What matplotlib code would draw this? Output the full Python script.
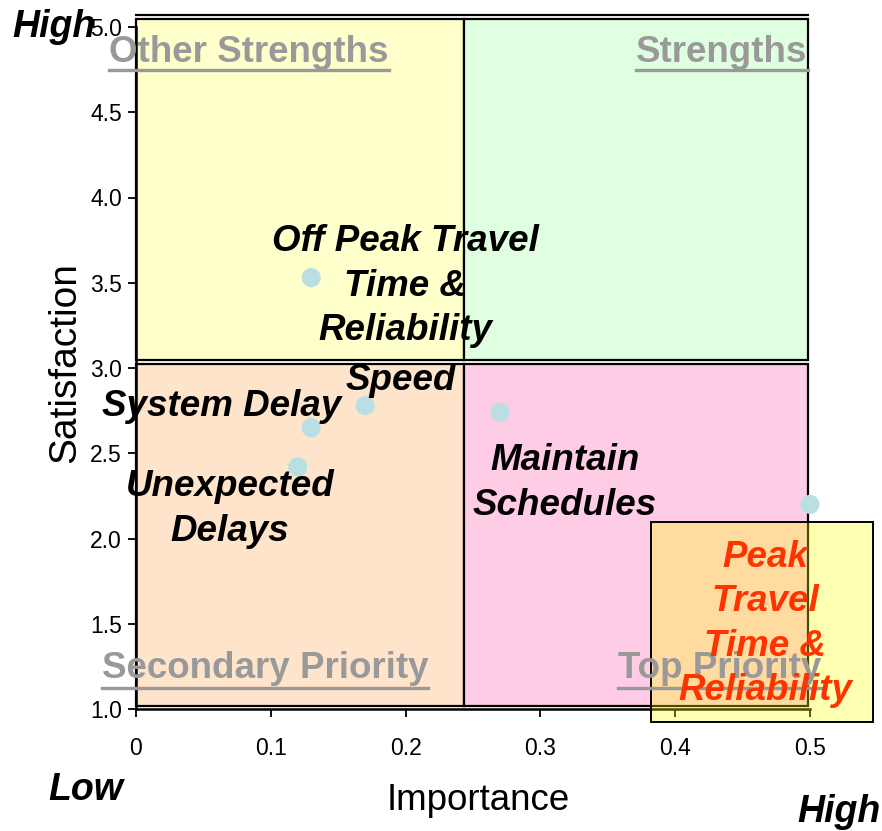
import matplotlib
matplotlib.use("Agg")
import matplotlib.pyplot as plt
from matplotlib.patches import Rectangle
from matplotlib.lines import Line2D

plt.rcParams['font.family'] = ['Liberation Sans', 'DejaVu Sans']

# ---- data ----
items = ["Off Peak Travel\nTime &\nReliability", "Speed", "System Delay",
         "Unexpected\nDelays", "Maintain\nSchedules", "Peak\nTravel\nTime &\nReliability"]
importance = [0.13, 0.17, 0.13, 0.12, 0.27, 0.50]
satisfaction = [3.53, 2.78, 2.65, 2.42, 2.74, 2.20]
x_ticks = [0, 0.1, 0.2, 0.3, 0.4, 0.5]
x_ticklabels = ["0", "0.1", "0.2", "0.3", "0.4", "0.5"]
y_ticks = [1.0, 1.5, 2.0, 2.5, 3.0, 3.5, 4.0, 4.5, 5.0]
y_ticklabels = ["1.0", "1.5", "2.0", "2.5", "3.0", "3.5", "4.0", "4.5", "5.0"]
quadrant_names = ["Other Strengths", "Strengths", "Secondary Priority", "Top Priority"]
x_split = 0.2433
y_split_top = 3.044
y_split_bot = 3.023

W, H = 882, 831
fig = plt.figure(figsize=(W / 100, H / 100), dpi=100)
ax = fig.add_axes([136 / W, 1 - 709 / H, (810 - 136) / W, 682 / H])
ax.set_xlim(0, 0.5)
ax.set_ylim(1.0, 5.0)

def fx(px):
    return px / W

def fy(py):
    return 1 - py / H

# quadrants
q_right = 0.4985
q_top = 5.048
q_bot = 1.019
quads = [
    (0, y_split_top, x_split, q_top - y_split_top, '#FFFFCC'),
    (x_split, y_split_top, q_right - x_split, q_top - y_split_top, '#E0FFE0'),
    (0, q_bot, x_split, y_split_bot - q_bot, '#FFE4CC'),
    (x_split, q_bot, q_right - x_split, y_split_bot - q_bot, '#FFCCE6'),
]
for (x0, y0, w, h, c) in quads:
    ax.add_patch(Rectangle((x0, y0), w, h, facecolor=c, edgecolor='black',
                           linewidth=1.6, clip_on=False, zorder=1))
# outer top line (double border)
ax.plot([0, q_right], [5.070, 5.070], color='black', lw=1.6, clip_on=False, zorder=1)

for s in ['top', 'right']:
    ax.spines[s].set_visible(False)
for s in ['left', 'bottom']:
    ax.spines[s].set_linewidth(1.8)
    ax.spines[s].set_zorder(3)

ax.set_xticks(x_ticks)
ax.set_xticklabels(x_ticklabels)
ax.set_yticks(y_ticks)
ax.set_yticklabels(y_ticklabels)
ax.tick_params(axis='x', direction='out', length=6, width=1.3, pad=14, labelsize=16.5)
ax.tick_params(axis='y', direction='out', length=6, width=1.3, pad=4, labelsize=16.5)

# points
ax.scatter(importance, satisfaction, s=190, color='#BADFE3', zorder=4, clip_on=False,
           edgecolors='none')

# highlight box
ax.add_patch(Rectangle((0.382, 0.924), 0.5467 - 0.382, 2.097 - 0.924,
                       facecolor=(1, 1, 0, 0.30), edgecolor='black', linewidth=1.4,
                       clip_on=False, zorder=5))

# quadrant labels
qlabels = [
    (quadrant_names[0], 249, 53, 70),
    (quadrant_names[1], 722, 53, 70),
    (quadrant_names[2], 265, 668, 688),
    (quadrant_names[3], 720, 668, 688),
]
qtexts = []
for name, px, py, uy in qlabels:
    t = fig.text(fx(px), fy(py), name, ha='center', va='center', fontsize=26.5,
                 fontweight='bold', color='#999999', zorder=3)
    qtexts.append((t, uy))

# point labels
label_pos = [(405, 286), (401, 380), (222, 406), (230, 509), (565, 483), (765, 624)]
for i, (lab, (px, py)) in enumerate(zip(items, label_pos)):
    color = '#FF3300' if i == 5 else 'black'
    fig.text(fx(px), fy(py), lab, ha='center', va='center', fontsize=26.5,
             fontweight='bold', fontstyle='italic', color=color, zorder=6,
             linespacing=1.34)

# High / Low
fig.text(fx(12), fy(27), "High", ha='left', va='center', fontsize=27,
         fontweight='bold', fontstyle='italic')
fig.text(fx(48), fy(790), "Low", ha='left', va='center', fontsize=27,
         fontweight='bold', fontstyle='italic')
fig.text(fx(797), fy(812), "High", ha='left', va='center', fontsize=27,
         fontweight='bold', fontstyle='italic')

# axis labels
fig.text(fx(478), fy(800), "Importance", ha='center', va='center', fontsize=26.5)
fig.text(fx(65), fy(363), "Satisfaction", ha='center', va='center', fontsize=28,
         rotation=90)

# underlines
fig.canvas.draw()
r = fig.canvas.get_renderer()
for t, uy in qtexts:
    bb = t.get_window_extent(r)
    fig.add_artist(Line2D([bb.x0 / W, bb.x1 / W], [fy(uy), fy(uy)],
                          transform=fig.transFigure, color='#999999', lw=2.4, zorder=3))

fig.savefig("out.png", dpi=100)
